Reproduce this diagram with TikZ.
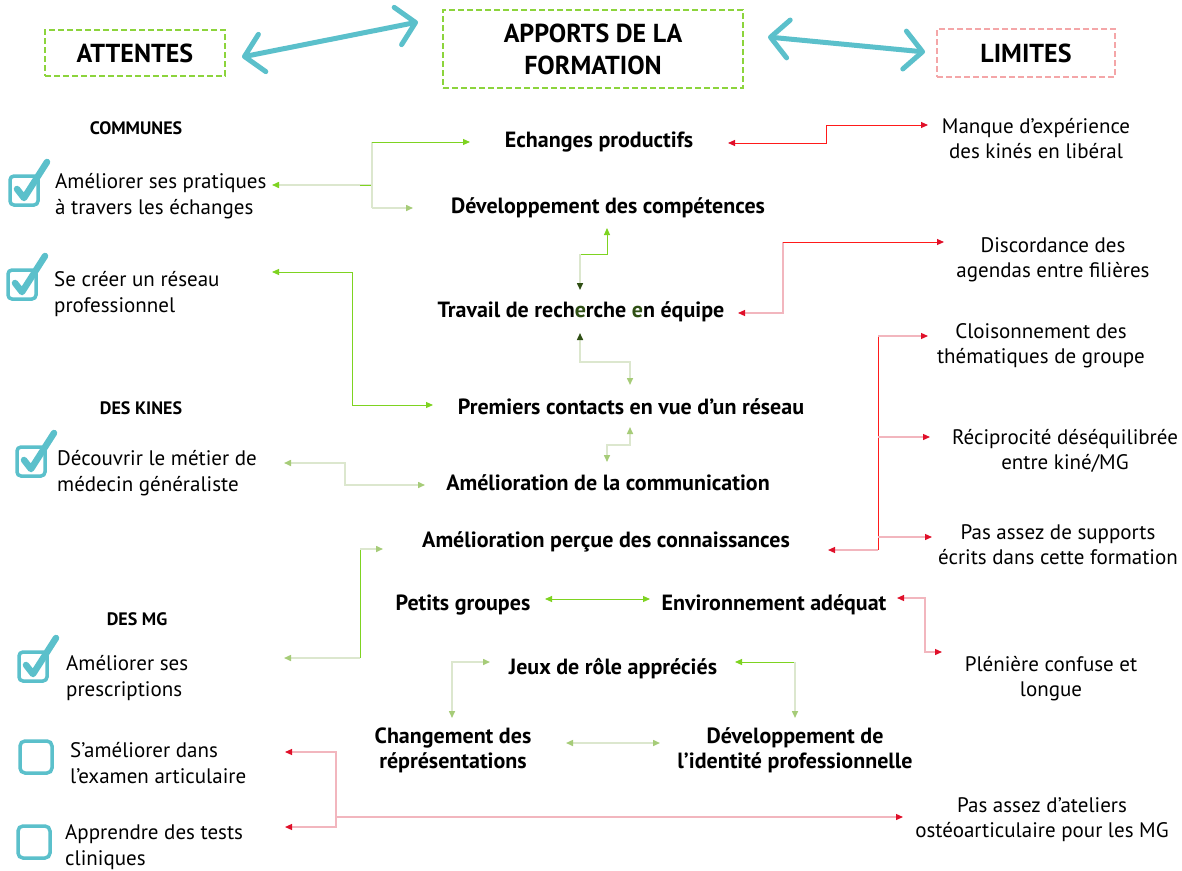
\documentclass[tikz,border=0pt]{standalone}
\usepackage{fontspec}
\setmainfont{PT Sans}
\usetikzlibrary{arrows.meta}
\definecolor{tealc}{HTML}{5BC0CB}
\definecolor{boxg}{HTML}{8CD43C}
\definecolor{boxp}{HTML}{F4A6A8}
\definecolor{gl}{HTML}{7ED321}
\definecolor{fg}{HTML}{DCE7CE}
\definecolor{fgt}{HTML}{A6CC78}
\definecolor{dg}{HTML}{2F4F14}
\definecolor{rl}{HTML}{FF1A1A}
\definecolor{pl}{HTML}{F2B6BE}
\definecolor{rt}{HTML}{E0102A}
\tikzset{
  TG/.tip={Triangle[length=7pt,width=6pt,color=gl,fill=gl]},
  TF/.tip={Triangle[length=7pt,width=6pt,color=fgt,fill=fgt]},
  TD/.tip={Triangle[length=7pt,width=6pt,color=dg,fill=dg]},
  TR/.tip={Triangle[length=7pt,width=6pt,color=rt,fill=rt]},
  hdr/.style={line width=2pt,dash pattern=on 6pt off 3pt,align=center,
    font=\bfseries\fontsize{26}{32}\selectfont,inner sep=0pt},
  tealarrow/.style={draw=tealc,line width=5pt,line cap=round,
    {Straight Barb[length=18pt,width=38pt,line width=5pt,round]}-{Straight Barb[length=18pt,width=38pt,line width=5pt,round]}},
  item/.style={font=\fontsize{21}{25.5}\selectfont,align=left,anchor=west,inner sep=0pt,yshift=-3pt},
  lim/.style={font=\fontsize{21}{25}\selectfont,align=center,inner sep=0pt,yshift=-2pt},
  app/.style={font=\bfseries\fontsize{22}{25}\selectfont,align=center,inner sep=0pt,yshift=-2pt},
  cat/.style={font=\bfseries\fontsize{18}{20}\selectfont,inner sep=0pt,yshift=-1pt},
  gc/.style={draw=gl,line width=1pt},
  fc/.style={draw=fg,line width=1.5pt},
  rc/.style={draw=rl,line width=1pt},
  pc/.style={draw=pl,line width=1.2pt},
  chk/.pic={
    \draw[tealc,line width=3.5pt,rounded corners=4pt] (0,0) rectangle (28,29);
    \draw[tealc,line width=6.5pt,line cap=round,line join=round] (7,13) -- (14,22) -- (37,-14);
  },
  ebox/.pic={
    \draw[tealc,line width=3.5pt,rounded corners=5pt] (0,0) rectangle (32,32);
  }
}
\begin{document}
\begin{tikzpicture}[x=1pt,y=-1pt]
\useasboundingbox[fill=white] (0,0) rectangle (1182,870);

% header boxes
\node[hdr,draw=boxg,minimum width=180pt,minimum height=46pt] (att) at (135,53) {ATTENTES};
\node[hdr,draw=boxg,minimum width=300pt,minimum height=78pt] (app) at (593,49) {APPORTS DE LA\\FORMATION};
\node[hdr,draw=boxp,minimum width=178pt,minimum height=48pt] (lim) at (1026,53) {LIMITES};
\coordinate (ta1) at (242,57);
\coordinate (ta2) at (418,22);
\coordinate (tb1) at (768,37);
\coordinate (tb2) at (925,52);
\draw[tealarrow] (ta1) -- (ta2);
\draw[tealarrow] (tb1) -- (tb2);

% left column
\node[cat] (com) at (136,127) {COMMUNES};
\node[cat] (kin) at (141,407) {DES KINES};
\node[cat] (mg) at (137,618) {DES MG};
\pic at (10,176) {chk};
\pic at (8,270) {chk};
\pic at (17,447) {chk};
\pic at (19,652) {chk};
\pic at (20,741) {ebox};
\pic at (18,826) {ebox};
\node[item] (a1) at (55,193) {Améliorer ses pratiques\\à travers les échanges};
\node[item] (a2) at (54,291) {Se créer un réseau\\professionnel};
\node[item] (a3) at (57,470) {Découvrir le métier de\\médecin généraliste};
\node[item] (a4) at (66,675) {Améliorer ses\\prescriptions};
\node[item] (a5) at (70,760) {S’améliorer dans\\l’examen articulaire};
\node[item] (a6) at (65,844) {Apprendre des tests\\cliniques};

% centre column
\node[app] (p1) at (599,140) {Echanges productifs};
\node[app] (p2) at (608,206) {Développement des compétences};
\node[app] (p3) at (581,310) {Travail de rech\textcolor{dg}{e}rche \textcolor{dg}{e}n équipe};
\node[app] (p4) at (631,405) {Premiers contacts en vue d’un réseau};
\node[app] (p5) at (608,481) {Amélioration de la communication};
\node[app] (p6) at (606,540) {Amélioration perçue des connaissances};
\node[app] (p7) at (463,603) {Petits groupes};
\node[app] (p8) at (774,603) {Environnement adéquat};
\node[app] (p9) at (613,667) {Jeux de rôle appréciés};
\node[app] (p10) at (453,748) {Changement des\\réprésentations};
\node[app] (p11) at (795,748) {Développement de\\l’identité professionnelle};

% right column
\node[lim] (l1) at (1036,137) {Manque d’expérience\\des kinés en libéral};
\node[lim] (l2) at (1053,258) {Discordance des\\agendas entre filières};
\node[lim] (l3) at (1041,344) {Cloisonnement des\\thématiques de groupe};
\node[lim] (l4) at (1065,449) {Réciprocité déséquilibrée\\entre kiné/MG};
\node[lim] (l5) at (1058,543) {Pas assez de supports\\écrits dans cette formation};
\node[lim] (l6) at (1051,677) {Plénière confuse et\\longue};
\node[lim] (l7) at (1042,818) {Pas assez d’ateliers\\ostéoarticulaire pour les MG};

% green connectors
\coordinate (j1) at (372,185);
\coordinate (j1t) at (372,142);
\coordinate (j1b) at (372,208);
\coordinate (g1a) at (272,185);
\coordinate (g1b) at (470,142);
\coordinate (g1c) at (413,208);
\draw[fc,-{TG}] (j1) -- (g1a);
\draw[gc] (j1) -- +(-12,0);
\draw[fc] (j1b) -- (j1t);
\draw[gc,-{TG}] (j1t) -- (g1b);
\draw[fc,-{TF}] (j1b) -- (g1c);

\coordinate (g2a) at (272,272);
\coordinate (g2b) at (433,405);
\draw[gc,{TG}-{TG}] (g2a) -- (352,272) -- (352,405) -- (g2b);

\coordinate (g3a) at (607,228);
\coordinate (g3j) at (580,254);
\coordinate (g3b) at (580,290);
\draw[gc,{TG}-] (g3a) -- (607,254) -- (g3j);
\draw[fc,-{TD}] (g3j) -- (g3b);

\coordinate (g4a) at (580,333);
\coordinate (g4b) at (630,385);
\draw[fc,{TD}-{TF}] (g4a) -- (580,362) -- (630,362) -- (g4b);

\coordinate (g5a) at (630,427);
\coordinate (g5b) at (607,462);
\draw[fc,{TF}-{TF}] (g5a) -- (630,445) -- (607,445) -- (g5b);

\coordinate (g6a) at (284,463);
\coordinate (g6b) at (425,485);
\draw[fc,{TF}-{TF}] (g6a) -- (345,463) -- (345,485) -- (g6b);

\coordinate (g7a) at (284,658);
\coordinate (g7j) at (360,658);
\coordinate (g7k) at (360,549);
\coordinate (g7b) at (383,549);
\draw[fc,-{TF}] (g7j) -- (g7a);
\draw[gc] (g7j) -- (g7k);
\draw[fc,-{TF}] (g7k) -- (g7b);

\coordinate (g8a) at (545,599);
\coordinate (g8b) at (650,599);
\draw[gc,{TG}-{TG}] (g8a) -- (g8b);

\coordinate (g9a) at (490,662);
\coordinate (g9b) at (452,718);
\draw[fc,{TF}-{TF}] (g9a) -- (452,662) -- (g9b);
\coordinate (g9c) at (735,662);
\coordinate (g9j) at (795,662);
\coordinate (g9d) at (795,718);
\draw[gc,{TG}-] (g9c) -- (g9j);
\draw[fc,-{TF}] (g9j) -- (g9d);

\coordinate (g10a) at (566,743);
\coordinate (g10b) at (660,743);
\draw[fc,{TF}-{TF}] (g10a) -- (g10b);

% red connectors
\coordinate (r1a) at (728,143);
\coordinate (r1b) at (928,125);
\draw[rc,{TR}-{TR}] (r1a) -- (826,143) -- (826,125) -- (r1b);

\coordinate (r2a) at (738,313);
\coordinate (r2j) at (783,242);
\coordinate (r2b) at (944,242);
\draw[pc,{TR}-] (r2a) -- (783,313) -- (r2j);
\draw[rc,-{TR}] (r2j) -- (r2b);

\coordinate (r3t) at (878,336);
\coordinate (r3m) at (878,437);
\coordinate (r3n) at (878,537);
\coordinate (r3e) at (878,550);
\draw[rc] (r3t) -- (r3e);
\draw[pc,-{TR}] (r3t) -- (928,336);
\draw[pc,-{TR}] (r3m) -- (930,437);
\draw[pc,-{TR}] (r3n) -- (932,537);
\draw[pc,-{TR}] (r3e) -- (828,550);

\coordinate (r4a) at (897,598);
\coordinate (r4b) at (942,652);
\draw[pc,{TR}-{TR}] (r4a) -- (925,598) -- (925,652) -- (r4b);

\coordinate (r5a) at (285,752);
\coordinate (r5b) at (285,827);
\coordinate (r5j) at (336,817);
\coordinate (r5c) at (903,817);
\draw[pc,{TR}-{TR}] (r5a) -- (336,752) -- (336,827) -- (r5b);
\draw[pc,-{TR}] (r5j) -- (r5c);
\end{tikzpicture}
\end{document}
